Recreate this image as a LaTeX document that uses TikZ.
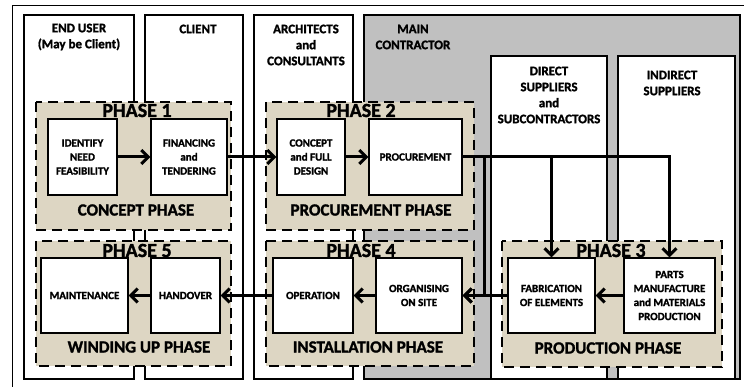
\documentclass[tikz,border=0pt]{standalone}
\usepackage{fontspec}
\setmainfont{Carlito}[BoldFeatures={FakeBold=1.5}]
\usetikzlibrary{arrows.meta}
\definecolor{phasetan}{HTML}{DDD6C3}
\definecolor{maingray}{HTML}{C0C0C0}

\begin{document}
\begin{tikzpicture}[x=1pt,y=-1pt,
  lane/.style={draw=black,line width=1.1pt,fill=white},
  phasebox/.style={draw=black,line width=1.6pt,dash pattern=on 10pt off 6pt,fill=phasetan},
  task/.style={draw=black,line width=1.2pt,fill=white,inner sep=0pt,align=center,
    font=\fontsize{11}{14}\selectfont\bfseries},
  lanelabel/.style={inner sep=0pt,align=center,font=\fontsize{13}{16}\selectfont\bfseries},
  phasetitle/.style={inner sep=0pt,font=\fontsize{20}{20}\selectfont\bfseries},
  phasename/.style={inner sep=0pt,font=\fontsize{17}{17}\selectfont\bfseries},
  flow/.style={line width=3pt,-{Straight Barb[length=7pt,width=14pt]}}]
\useasboundingbox (0,0) rectangle (744,387);
\draw[line width=1pt] (12,387) -- (12,6) -- (744,6);
\draw[line width=1.1pt,fill=maingray] (364,15) rectangle (740,379);
\draw[lane] (24,15) rectangle (134,379);
\draw[lane] (145,15) rectangle (243,379);
\draw[lane] (254,15) rectangle (353,379);
\draw[lane] (491,56) rectangle (607,379);
\draw[lane] (618,56) rectangle (735,379);
\node[lanelabel] (enduser) at (79,37) {END USER\\(May be Client)};
\node[lanelabel] (client) at (198,29) {CLIENT};
\node[lanelabel] (architects) at (306,45) {ARCHITECTS\\and\\CONSULTANTS};
\node[lanelabel] (maincontractor) at (413,37) {MAIN\\CONTRACTOR};
\node[lanelabel] (direct) at (549,95) {DIRECT\\SUPPLIERS\\and\\SUBCONTRACTORS};
\node[lanelabel] (indirect) at (672,83) {INDIRECT\\SUPPLIERS};
\draw[phasebox] (36,102) rectangle (231,230);
\draw[phasebox] (266,102) rectangle (474,230);
\draw[phasebox] (36,241) rectangle (231,366);
\draw[phasebox] (266,241) rectangle (474,366);
\draw[phasebox] (502,241) rectangle (722,367);
\node[phasetitle] (phase1) at (137,110.5) {PHASE 1};
\node[phasetitle] (phase2) at (361,110.5) {PHASE 2};
\node[phasetitle] (phase3) at (611,250.5) {PHASE 3};
\node[phasetitle] (phase4) at (361,250.5) {PHASE 4};
\node[phasetitle] (phase5) at (137,250.5) {PHASE 5};
\node[phasename] (conceptphase) at (136,210) {CONCEPT PHASE};
\node[phasename] (procurementphase) at (371,210) {PROCUREMENT PHASE};
\node[phasename] (windingphase) at (139,347) {WINDING UP PHASE};
\node[phasename] (installationphase) at (368,347) {INSTALLATION PHASE};
\node[phasename] (productionphase) at (608,348) {PRODUCTION PHASE};
\node[task,minimum width=69pt,minimum height=76pt] (identify) at (82.5,157) {IDENTIFY\\NEED\\FEASIBILITY};
\node[task,minimum width=76pt,minimum height=76pt] (financing) at (189,157) {FINANCING\\and\\TENDERING};
\node[task,minimum width=68pt,minimum height=76pt] (concept) at (311,157) {CONCEPT\\and FULL\\DESIGN};
\node[task,minimum width=93pt,minimum height=76pt] (procurement) at (415.5,157) {PROCUREMENT};
\node[task,minimum width=87pt,minimum height=75pt] (maintenance) at (84.5,295.5) {MAINTENANCE};
\node[task,minimum width=69pt,minimum height=75pt] (handover) at (185.5,295.5) {HANDOVER};
\node[task,minimum width=80pt,minimum height=75pt] (operation) at (313,295.5) {OPERATION};
\node[task,minimum width=86pt,minimum height=75pt] (organising) at (419,295.5) {ORGANISING\\ON SITE};
\node[task,minimum width=87pt,minimum height=75pt] (fabrication) at (551.5,295.5) {FABRICATION\\OF ELEMENTS};
\node[task,minimum width=91pt,minimum height=75pt] (parts) at (669.5,295.5) {PARTS\\MANUFACTURE\\and MATERIALS\\PRODUCTION};
\coordinate (drop) at (484,295.5);
\draw[flow] (identify) -- (financing);
\draw[flow] (financing) -- (concept);
\draw[flow] (concept) -- (procurement);
\draw[flow] (procurement.east) -| (parts.north);
\draw[flow] (procurement.east) -| (fabrication.north);
\draw[flow] (procurement.east) -| (drop) -- (organising.east);
\draw[flow] (parts) -- (fabrication);
\draw[flow] (fabrication) -- (organising);
\draw[flow] (organising) -- (operation);
\draw[flow] (operation) -- (handover);
\draw[flow] (handover) -- (maintenance);
\end{tikzpicture}
\end{document}
